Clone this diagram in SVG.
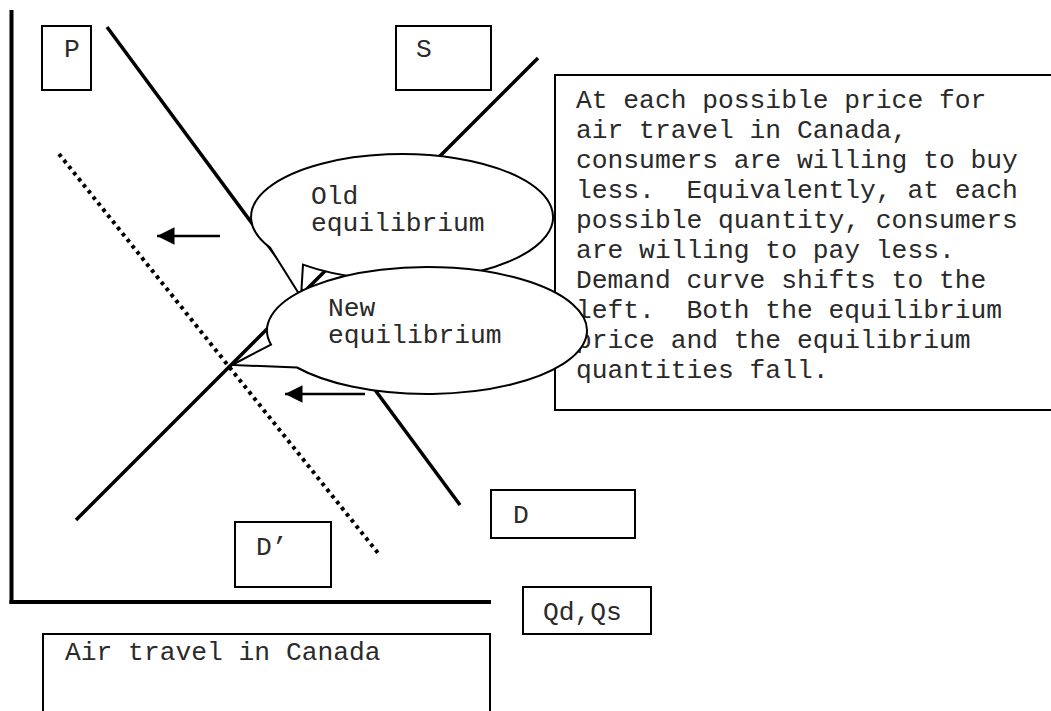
<svg xmlns="http://www.w3.org/2000/svg" width="1051" height="711" viewBox="0 0 1051 711">
<defs>
<style>
.box{fill:#fff;stroke:#000;stroke-width:2}
.t{font-family:"Liberation Mono","Courier New",monospace;font-size:26.3px;fill:#2a2a2a;white-space:pre}
.axis{stroke:#000;stroke-width:4;fill:none}
.curve{stroke:#000;stroke-width:3.5;fill:none}
.dots{stroke:#000;stroke-width:4;fill:none;stroke-dasharray:3.6 4.2}
.arr{stroke:#000;stroke-width:2.5;fill:none;marker-end:url(#ah)}
.callout{fill:#fff;stroke:#000;stroke-width:2}
</style>
<marker id="ah" markerWidth="8" markerHeight="7" refX="7" refY="3.5" orient="auto" markerUnits="strokeWidth">
<path d="M0,0 L7,3.5 L0,7 Z" fill="#000"/>
</marker>
</defs>
<rect width="1051" height="711" fill="#fff"/>

<g id="axes">
<line class="axis" x1="11.5" y1="10" x2="11.5" y2="604"/>
<line class="axis" x1="9.5" y1="602" x2="491" y2="602"/>
</g>

<g id="connectors">
<line id="D-curve" class="curve" x1="107" y1="27" x2="460" y2="505"/>
<line id="S-curve" class="curve" x1="76" y1="520" x2="538" y2="58"/>
<line id="D-prime-curve" class="dots" x1="59" y1="154" x2="378" y2="553"/>
<line id="arrow1" class="arr" x1="220" y1="236" x2="157" y2="236"/>
<line id="arrow2" class="arr" x1="365" y1="394" x2="285" y2="394"/>
</g>

<g id="label-P">
<rect class="box" x="42" y="26" width="49" height="64"/>
<text class="t" x="64" y="57">P</text>
</g>
<g id="label-S">
<rect class="box" x="396" y="26" width="95" height="64"/>
<text class="t" x="416" y="57">S</text>
</g>
<g id="label-D">
<rect class="box" x="491" y="490" width="144" height="48"/>
<text class="t" x="513" y="523">D</text>
</g>
<g id="label-Dprime">
<rect class="box" x="235" y="522" width="96" height="65"/>
<text class="t" x="256" y="555">D’</text>
</g>
<g id="label-Q">
<rect class="box" x="523" y="587" width="128" height="47"/>
<text class="t" x="543" y="620">Qd,Qs</text>
</g>
<g id="title">
<rect class="box" x="43" y="634" width="447" height="90"/>
<text class="t" x="65" y="660">Air travel in Canada</text>
</g>

<g id="note">
<rect class="box" x="555" y="75" width="510" height="335"/>
<text class="t" x="576" y="108">At each possible price for</text>
<text class="t" x="576" y="138">air travel in Canada,</text>
<text class="t" x="576" y="168">consumers are willing to buy</text>
<text class="t" x="576" y="198">less.  Equivalently, at each</text>
<text class="t" x="576" y="228">possible quantity, consumers</text>
<text class="t" x="576" y="258">are willing to pay less.</text>
<text class="t" x="576" y="288">Demand curve shifts to the</text>
<text class="t" x="576" y="318">left.  Both the equilibrium</text>
<text class="t" x="576" y="348">price and the equilibrium</text>
<text class="t" x="576" y="378">quantities fall.</text>
</g>

<g id="old-equilibrium">
<path class="callout" d="M270,247.6 L301,297 L303,264.6 A151,63 0 1 0 270,247.6 Z"/>
<text class="t" x="311" y="204">Old</text>
<text class="t" x="311" y="231">equilibrium</text>
</g>

<g id="new-equilibrium">
<path class="callout" d="M271,344.6 L232,365 L297,367.5 A160,63.5 0 1 0 271,344.6 Z"/>
<text class="t" x="328" y="316">New</text>
<text class="t" x="328" y="343">equilibrium</text>
</g>
</svg>
